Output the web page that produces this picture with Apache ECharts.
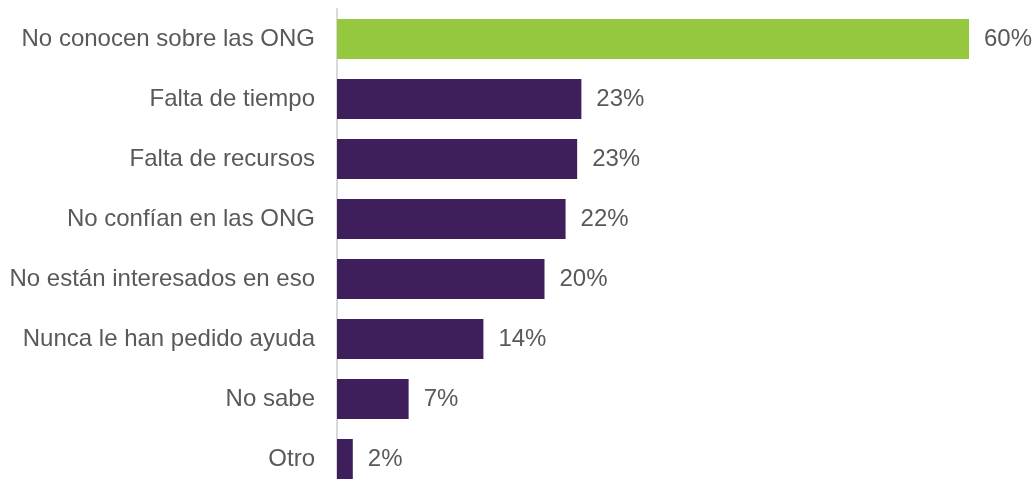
<!DOCTYPE html>
<html>
<head>
<meta charset="utf-8">
<script src="https://cdn.jsdelivr.net/npm/echarts@6/dist/echarts.min.js"></script>
<style>
  html, body { margin: 0; padding: 0; background: #fff; }
</style>
</head>
<body>
<div id="chart" style="width: 1033px; height: 479px"></div>
<script>
// categorias (de arriba hacia abajo)
const categories = [
  "No conocen sobre las ONG",
  "Falta de tiempo",
  "Falta de recursos",
  "No confían en las ONG",
  "No están interesados en eso",
  "Nunca le han pedido ayuda",
  "No sabe",
  "Otro"
];
// porcentajes
const values = [60.0, 23.2, 22.8, 21.7, 19.7, 13.9, 6.8, 1.5];
const barColors = ["#95c83f", "#3e1f5b", "#3e1f5b", "#3e1f5b", "#3e1f5b", "#3e1f5b", "#3e1f5b", "#3e1f5b"];

const myChart = echarts.init(document.getElementById("chart"));
const option = {
  animation: false,
  grid: {
    left: 337,
    top: 9,
    width: 632,
    height: 480,
    outerBoundsMode: "none"
  },
  xAxis: {
    type: "value",
    min: 0,
    max: 60,
    show: false
  },
  yAxis: {
    type: "category",
    inverse: true,
    data: categories,
    axisLine: {
      show: true,
      lineStyle: { color: "#d9d9d9", width: 2 }
    },
    axisTick: { show: false },
    axisLabel: {
      margin: 22,
      color: "#595959",
      fontSize: 24,
      fontFamily: "Liberation Sans"
    }
  },
  series: [
    {
      type: "bar",
      barWidth: 40,
      data: values.map((v, i) => ({ value: v, itemStyle: { color: barColors[i] } })),
      label: {
        show: true,
        position: "right",
        distance: 15,
        color: "#595959",
        fontSize: 24,
        fontFamily: "Liberation Sans",
        formatter: p => Math.round(p.value) + "%"
      }
    }
  ]
};
myChart.setOption(option);
</script>
</body>
</html>
